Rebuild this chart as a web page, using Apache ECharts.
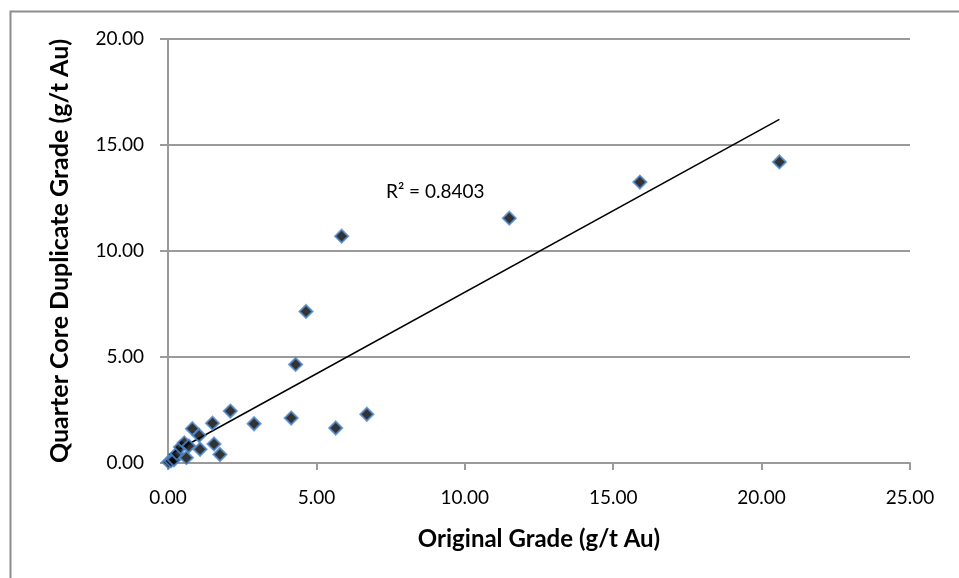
<!DOCTYPE html>
<html>
<head>
<meta charset="utf-8">
<script src="https://cdn.jsdelivr.net/npm/echarts@6/dist/echarts.min.js"></script>
<style>
  html, body { margin: 0; padding: 0; background: #fff; }
  #chart { width: 959px; height: 578px; }
</style>
</head>
<body>
<div id="chart"></div>
<script>
// Original assay grade vs. quarter-core duplicate grade (g/t Au)
const originalGrade = [0.02, 0.10, 0.20, 0.30, 0.42, 0.55, 0.62, 0.70, 0.82, 1.05, 1.08, 1.50, 1.55, 1.75, 2.10, 2.90, 4.15, 4.30, 4.65, 5.65, 5.85, 6.70, 11.50, 15.90, 20.60];
const duplicateGrade = [0.05, 0.10, 0.15, 0.45, 0.75, 0.95, 0.25, 0.80, 1.62, 1.30, 0.65, 1.88, 0.90, 0.40, 2.45, 1.85, 2.12, 4.65, 7.15, 1.65, 10.70, 2.30, 11.55, 13.25, 14.20];
const xTicks = [0, 5, 10, 15, 20, 25];
const yTicks = [0, 5, 10, 15, 20];
const rSquaredText = 'R² = 0.8403';

// least-squares linear trend through the samples
function linearFit(xs, ys) {
  const n = xs.length;
  const mx = xs.reduce((a, b) => a + b, 0) / n;
  const my = ys.reduce((a, b) => a + b, 0) / n;
  let sxy = 0, sxx = 0;
  for (let i = 0; i < n; i++) {
    sxy += (xs[i] - mx) * (ys[i] - my);
    sxx += (xs[i] - mx) * (xs[i] - mx);
  }
  const slope = sxy / sxx;
  return { slope, intercept: my - slope * mx };
}
const fit = linearFit(originalGrade, duplicateGrade);
const xMin = Math.min(...originalGrade), xMax = Math.max(...originalGrade);
const trend = [[xMin, fit.intercept + fit.slope * xMin], [xMax, fit.intercept + fit.slope * xMax]];

const points = originalGrade.map((x, i) => [x, duplicateGrade[i]]);

const FONT = 'Lato, "Liberation Sans", sans-serif';
const GRID_COLOR = '#9a9a9a';

const chart = echarts.init(document.getElementById('chart'), null, { renderer: 'canvas' });
chart.setOption({
  animation: false,
  backgroundColor: '#fff',
  grid: { left: 168, right: 49, top: 39, bottom: 115, containLabel: false },
  xAxis: {
    type: 'value',
    min: xTicks[0], max: xTicks[xTicks.length - 1], interval: 5,
    name: 'Original Grade (g/t Au)',
    nameLocation: 'middle', nameGap: 64,
    nameTextStyle: { fontFamily: FONT, fontWeight: 'bold', fontSize: 24, color: '#000' },
    axisLine: { show: true, lineStyle: { color: GRID_COLOR, width: 2 } },
    axisTick: { show: true, inside: false, length: 7, lineStyle: { color: GRID_COLOR, width: 2 } },
    axisLabel: { fontFamily: FONT, fontSize: 19, color: '#000', margin: 25, formatter: v => v.toFixed(2) },
    splitLine: { show: false }
  },
  yAxis: {
    type: 'value',
    min: yTicks[0], max: yTicks[yTicks.length - 1], interval: 5,
    name: 'Quarter Core Duplicate Grade (g/t Au)',
    nameLocation: 'middle', nameGap: 96,
    nameTextStyle: { fontFamily: FONT, fontWeight: 'bold', fontSize: 25, color: '#000' },
    axisLine: { show: true, lineStyle: { color: GRID_COLOR, width: 2 } },
    axisTick: { show: true, inside: false, length: 8, lineStyle: { color: GRID_COLOR, width: 2 } },
    axisLabel: { fontFamily: FONT, fontSize: 19, color: '#000', margin: 24, formatter: v => v.toFixed(2) },
    splitLine: { show: true, lineStyle: { color: GRID_COLOR, width: 2 } }
  },
  series: [
    {
      name: 'Trend',
      type: 'line',
      data: trend,
      symbol: 'none',
      lineStyle: { color: '#000', width: 1.5 },
      z: 3,
      silent: true
    },
    {
      name: 'Samples',
      type: 'scatter',
      data: points,
      symbol: 'diamond',
      symbolSize: 13,
      itemStyle: { color: '#000', borderColor: '#4f88cc', borderWidth: 2 },
      z: 4
    }
  ],
  graphic: [
    {
      type: 'rect',
      left: 8, top: 9,
      shape: { width: 1000, height: 1000 },
      style: { fill: 'none', stroke: '#8c8c8c', lineWidth: 2 },
      silent: true
    },
    {
      type: 'text',
      left: 386, top: 182,
      style: { text: rSquaredText, font: '19px ' + FONT, fill: '#000' },
      z: 10
    }
  ]
});
</script>
</body>
</html>
